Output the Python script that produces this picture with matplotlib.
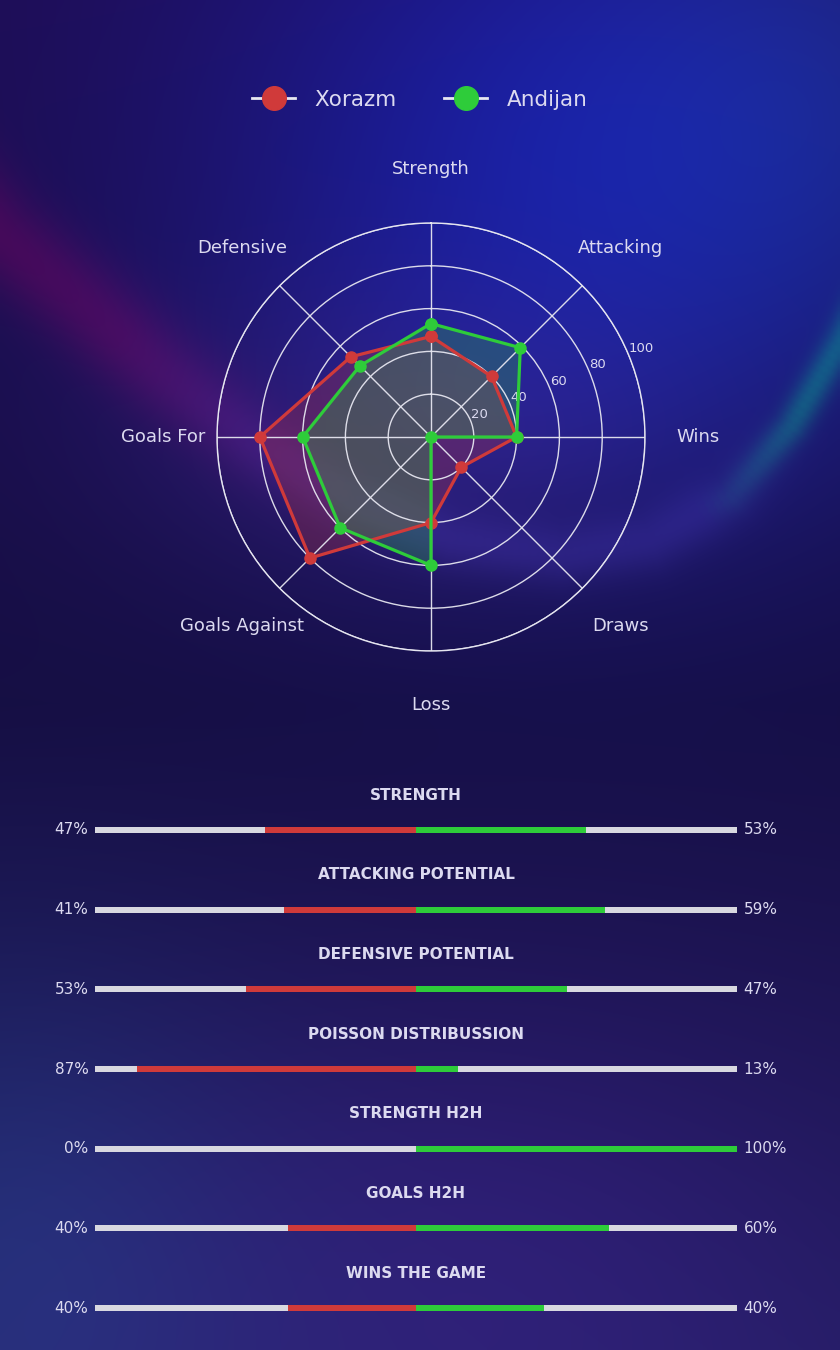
import numpy as np
import matplotlib
matplotlib.use("Agg")
import matplotlib.pyplot as plt
from matplotlib.lines import Line2D

# ---------------- data ----------------
teams = ["Xorazm", "Andijan"]
team_colors = ["#d03a3a", "#2ecc3a"]
radar_labels = ["Strength", "Attacking", "Wins", "Draws", "Loss",
                "Goals Against", "Goals For", "Defensive"]
xorazm_vals = [47, 40, 40, 20, 40, 80, 80, 53]
andijan_vals = [53, 59, 40, 0, 60, 60, 60, 47]
radial_ticks = [20, 40, 60, 80, 100]

bar_titles = ["STRENGTH", "ATTACKING POTENTIAL", "DEFENSIVE POTENTIAL",
              "POISSON DISTRIBUSSION", "STRENGTH H2H", "GOALS H2H", "WINS THE GAME"]
left_pct = [47, 41, 53, 87, 0, 40, 40]
right_pct = [53, 59, 47, 13, 100, 60, 40]

TXT = "#dcdaf0"
W, H = 840, 1350

fig = plt.figure(figsize=(W / 100, H / 100), dpi=100)

# ---------------- background ----------------
s = 3
h, w = H // s, W // s
yy, xx = np.mgrid[0:h, 0:w].astype(float)
X = xx * s
Y = yy * s
img = np.zeros((h, w, 3))
t = Y / H
top = np.array([0.12, 0.05, 0.32])
mid = np.array([0.085, 0.055, 0.26])
bot = np.array([0.14, 0.11, 0.38])
for c in range(3):
    img[..., c] = np.where(t < 0.52, top[c] + (mid[c] - top[c]) * (t / 0.52),
                           mid[c] + (bot[c] - mid[c]) * ((t - 0.52) / 0.48))


def gauss(cx, cy, sx, sy):
    return np.exp(-(((X - cx) / sx) ** 2 + ((Y - cy) / sy) ** 2) / 2)


img += gauss(600, 170, 280, 250)[..., None] * np.array([-0.01, 0.07, 0.34])
img += gauss(840, 80, 180, 200)[..., None] * np.array([0.0, 0.06, 0.04])
img += gauss(0, 1250, 180, 220)[..., None] * np.array([0.01, 0.08, 0.10])
img += gauss(470, 1250, 260, 200)[..., None] * np.array([0.05, 0.02, 0.10])
img += gauss(430, 430, 200, 110)[..., None] * np.array([0.08, 0.04, 0.08])

curve = np.array([(-60, 170), (0, 235), (80, 300), (160, 370), (250, 440),
                  (350, 500), (450, 540), (560, 555), (650, 540), (730, 495),
                  (790, 425), (840, 340), (880, 260)], float)
pts = []
for a, b in zip(curve[:-1], curve[1:]):
    for u in np.linspace(0, 1, 12, endpoint=False):
        pts.append(a + (b - a) * u)
pts = np.array(pts)
dmin = np.full((h, w), 1e9)
idx = np.zeros((h, w), int)
for k, (px, py) in enumerate(pts):
    d = np.hypot(X - px, Y - py)
    m = d < dmin
    dmin[m] = d[m]
    idx[m] = k
px_on = pts[idx, 0]
red_w = np.clip(1 - (px_on - 120) / 250, 0, 1)
grn_w = np.clip((px_on - 700) / 100, 0, 1)
glow_r = np.exp(-(dmin / 45) ** 2) * red_w
glow_g = np.exp(-(dmin / 16) ** 2) * grn_w
glow_m = np.exp(-(dmin / 30) ** 2) * (1 - red_w) * (1 - grn_w)
img += glow_r[..., None] * np.array([0.16, -0.02, 0.02])
img += glow_g[..., None] * np.array([-0.03, 0.24, 0.04])
img += glow_m[..., None] * np.array([0.05, 0.04, 0.10])
img = np.clip(img, 0, 1)

bg = fig.add_axes([0, 0, 1, 1], zorder=-10)
bg.imshow(img, extent=[0, W, H, 0], aspect="auto", interpolation="bilinear")
bg.set_axis_off()

# ---------------- radar ----------------
cx, cy, R = 431, 437, 214
ax = fig.add_axes([(cx - R) / W, 1 - (cy + R) / H, 2 * R / W, 2 * R / H],
                  projection="polar")
ax.set_facecolor("none")
ax.set_theta_zero_location("N")
ax.set_theta_direction(-1)
n = len(radar_labels)
angles = np.linspace(0, 2 * np.pi, n, endpoint=False)
ax.set_ylim(0, 100)
ax.set_yticks(radial_ticks)
ax.set_yticklabels([str(v) for v in radial_ticks], color=TXT, fontsize=9.5)
ax.set_rlabel_position(67.5)
ax.set_xticks(angles)
ax.set_xticklabels([])
ax.grid(color="#e6e6f0", linewidth=1.0, alpha=0.95, zorder=2)
ax.spines["polar"].set_color("#e6e6f0")
ax.spines["polar"].set_linewidth(1.0)
ax.tick_params(axis="y", pad=0)
for ang, lab in zip(angles, radar_labels):
    ax.text(ang, 125, lab, color=TXT, fontsize=13, ha="center", va="center",
            clip_on=False)

for vals, col in zip([xorazm_vals, andijan_vals], team_colors):
    v = np.array(vals + vals[:1], float)
    a = np.concatenate([angles, angles[:1]])
    ax.fill(a, v, color=col, alpha=0.25, zorder=1)
    ax.plot(a, v, color=col, linewidth=2.3, marker="o", markersize=8, zorder=3)

# legend
handles = [Line2D([0], [0], color="#e8e8f0", linewidth=2, marker="o",
                  markersize=17, markerfacecolor=c, markeredgecolor=c)
           for c in team_colors]
leg = fig.legend(handles, teams, loc="center", bbox_to_anchor=(0.5, 1 - 100 / H),
                 ncol=2, frameon=False, fontsize=15.5, handlelength=2.0,
                 columnspacing=2.2, handletextpad=0.9)
for tx in leg.get_texts():
    tx.set_color(TXT)

# ---------------- bars ----------------
x0, x1 = 95, 737
y_top, y_bot = 770, 1330
row0, dy = 830, 79.67
bax = fig.add_axes([x0 / W, 1 - y_bot / H, (x1 - x0) / W, (y_bot - y_top) / H])
bax.set_facecolor("none")
bax.set_xlim(-100, 100)
bax.set_ylim((y_bot - row0) / dy, (y_top - row0) / dy)
bax.set_axis_off()
rows = np.arange(len(bar_titles))
bh = 6 / dy
bax.barh(rows, 200, left=-100, height=bh, color="#d8d8e0", zorder=1)
bax.barh(rows, [-v for v in left_pct], left=0, height=bh, color=team_colors[0], zorder=2)
bax.barh(rows, right_pct, left=0, height=bh, color=team_colors[1], zorder=2)
for i, title in enumerate(bar_titles):
    bax.text(0, i - 35 / dy, title, color=TXT, fontsize=11, fontweight="bold",
             ha="center", va="center")
    bax.text(-102, i, f"{left_pct[i]}%", color=TXT, fontsize=11,
             ha="right", va="center", clip_on=False)
    bax.text(102, i, f"{right_pct[i]}%", color=TXT, fontsize=11,
             ha="left", va="center", clip_on=False)

fig.savefig("out.png", dpi=100)
